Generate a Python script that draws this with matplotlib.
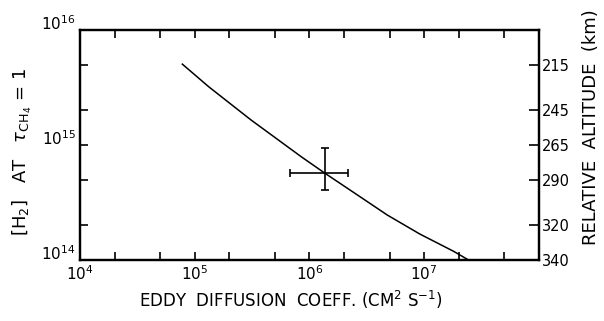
import numpy as np
import matplotlib
matplotlib.use('Agg')
import matplotlib.pyplot as plt
from matplotlib.ticker import FixedLocator, NullFormatter
from matplotlib.transforms import ScaledTranslation

# -------------------- data --------------------
eddy_coeff = [7.8e4, 1.33e5, 3.1e5, 8.5e5, 1.36e6, 2.63e6, 4.78e6, 9.2e6, 1.81e7, 2.44e7]   # cm^2 s^-1
h2_column  = [5.05e15, 3.2e15, 1.65e15, 7.9e14, 5.7e14, 3.67e14, 2.46e14, 1.68e14, 1.19e14, 1.0e14]

obs_k      = 1.36e6
obs_h2     = 5.7e14
obs_k_lo   = 6.8e5
obs_k_hi   = 2.16e6
obs_h2_lo  = 4.1e14
obs_h2_hi  = 9.4e14

x_major = [1e4, 1e5, 1e6, 1e7]
x_major_labels = [r'$10^4$', r'$10^5$', r'$10^6$', r'$10^7$']
y_major = [1e14, 1e15, 1e16]
y_major_labels = [r'$10^{14}$', r'$10^{15}$', r'$10^{16}$']

alt_ticks  = [5e15, 2e15, 1e15, 5e14, 2e14, 1e14]
alt_labels = ['215', '245', '265', '290', '320', '340']

# -------------------- figure --------------------
fig = plt.figure(figsize=(6.04, 3.21), dpi=100)
ax = fig.add_axes([0.1325, 0.19, 0.7595, 0.7165])

ax.plot(eddy_coeff, h2_column, color='black', lw=1.1)
ax.errorbar([obs_k], [obs_h2],
            xerr=[[obs_k - obs_k_lo], [obs_k_hi - obs_k]],
            yerr=[[obs_h2 - obs_h2_lo], [obs_h2_hi - obs_h2]],
            fmt='none', ecolor='black', elinewidth=1.2, capsize=3, capthick=1.2)

ax.set_xscale('log')
ax.set_yscale('log')
ax.set_xlim(1e4, 1e8)
ax.set_ylim(1e14, 1e16)

minor_x = [m * 10.0**d for d in range(4, 8) for m in (2, 5)]
minor_y = [m * 10.0**d for d in range(14, 16) for m in (2, 5)]
ax.xaxis.set_major_locator(FixedLocator(x_major))
ax.xaxis.set_minor_locator(FixedLocator(minor_x))
ax.set_xticklabels(x_major_labels)
ax.xaxis.set_minor_formatter(NullFormatter())
ax.yaxis.set_major_locator(FixedLocator(y_major))
ax.yaxis.set_minor_locator(FixedLocator(minor_y))
ax.set_yticklabels(y_major_labels)
ax.yaxis.set_minor_formatter(NullFormatter())

ax.tick_params(which='both', direction='in', length=6, width=1.2,
               top=True, right=False, labelsize=11, pad=3)
for s in ax.spines.values():
    s.set_linewidth(1.6)

# y labels sit a little above their ticks in the original
shift_up = ScaledTranslation(0, 6 / 72, fig.dpi_scale_trans)
for lbl in ax.get_yticklabels():
    lbl.set_transform(lbl.get_transform() + shift_up)

ax2 = ax.twinx()
ax2.set_yscale('log')
ax2.set_ylim(ax.get_ylim())
ax2.yaxis.set_major_locator(FixedLocator(alt_ticks))
ax2.yaxis.set_minor_locator(FixedLocator([]))
ax2.set_yticklabels(alt_labels)
ax2.tick_params(which='both', direction='in', length=7, width=1.2,
                labelsize=10.5, pad=2)
for s in ax2.spines.values():
    s.set_linewidth(1.6)

ax.set_xlabel(r'EDDY  DIFFUSION  COEFF. (CM$^2$ S$^{-1}$)', fontsize=12)
ax.xaxis.set_label_coords(0.46, -0.125)
ax.set_ylabel(r'$\left[\mathrm{H_2}\right]$   AT   $\tau_{\mathrm{CH_4}}$ = 1',
              fontsize=13)
ax.yaxis.set_label_coords(-0.1, 0.47)
ax2.set_ylabel('RELATIVE  ALTITUDE  (km)', fontsize=13)
ax2.yaxis.set_label_coords(1.095, 0.578)

fig.savefig('out.png', dpi=100)
